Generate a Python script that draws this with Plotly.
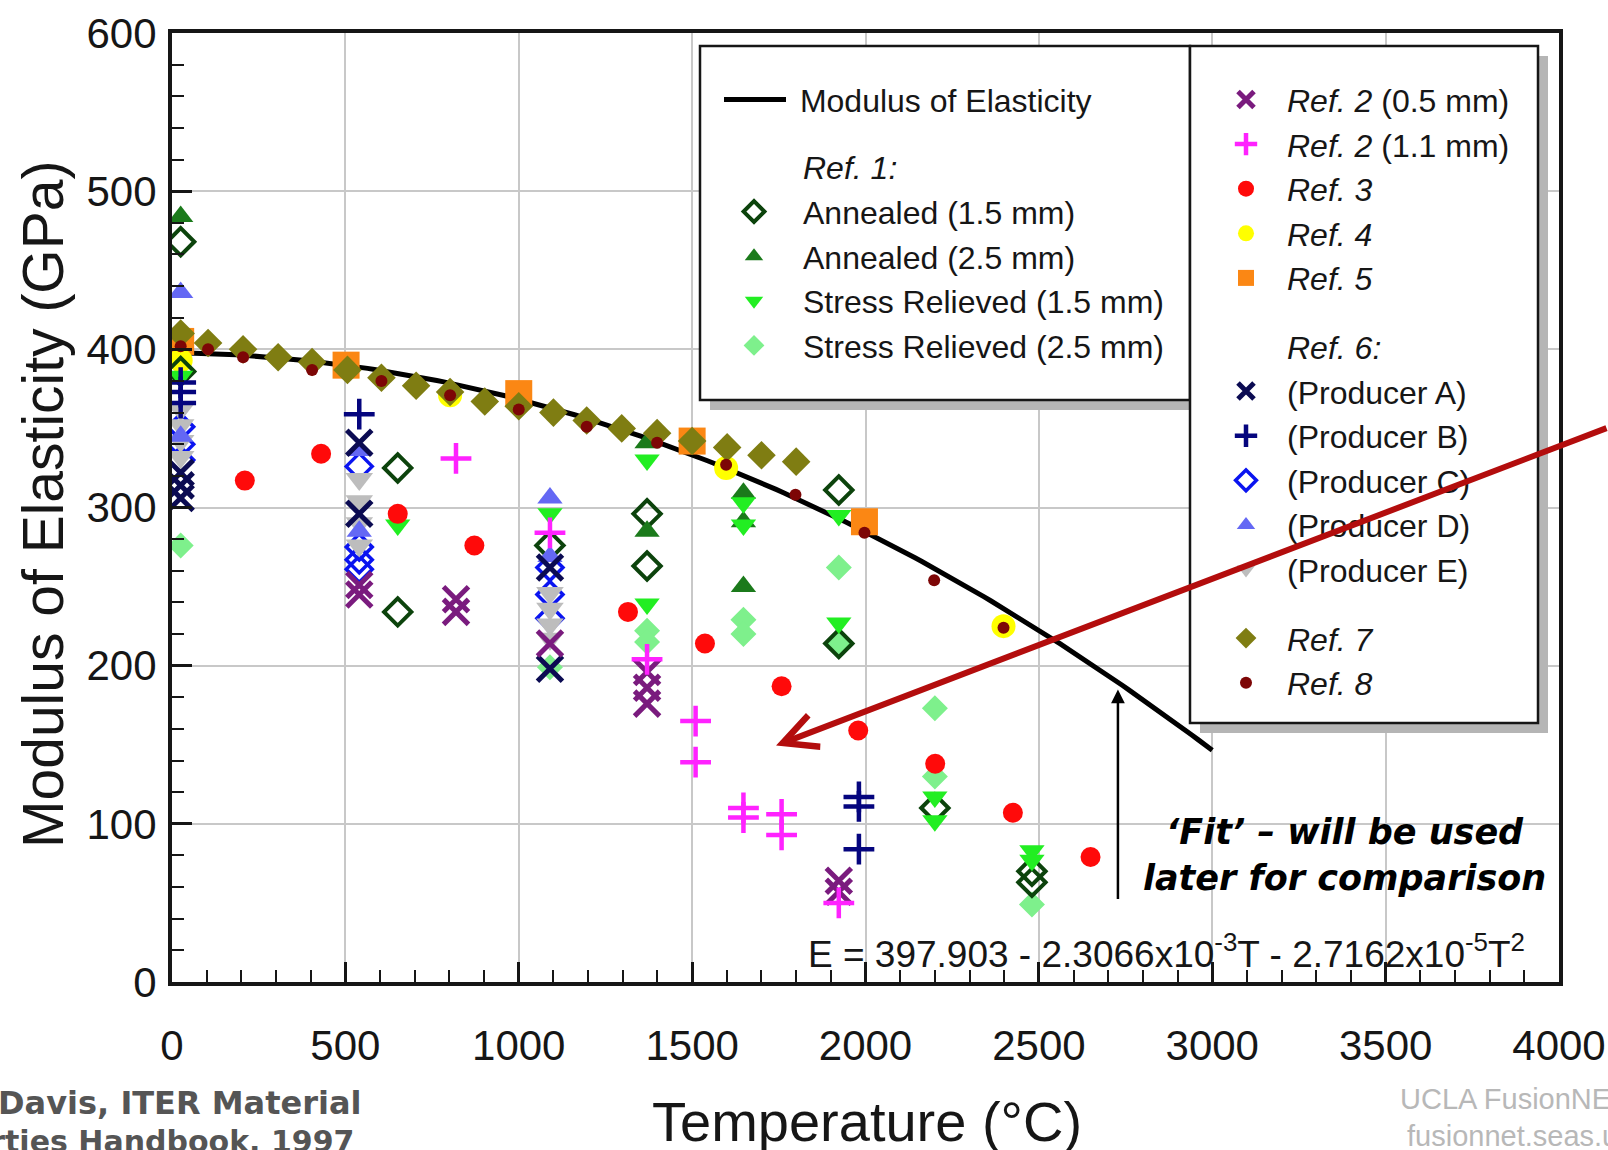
import numpy as np
import plotly.graph_objects as go

# ---------------------------------------------------------------
# Fit: E = A0 - A1*T - A2*T^2   (E in GPa, T in degC)
# ---------------------------------------------------------------
FIT_A0 = 397.903
FIT_A1_MANT, FIT_A1_EXP = 2.3066, -3
FIT_A2_MANT, FIT_A2_EXP = 2.7162, -5
FIT_T_MIN, FIT_T_MAX = 25, 3000

# ---------------------------------------------------------------
# Measured modulus data (temperature in degC, modulus in GPa)
# ---------------------------------------------------------------
ann15_T = [25, 25, 651, 651, 1090, 1370, 1370, 1923, 1923, 2200, 2480, 2480]
ann15_E = [468, 386, 325, 234, 276, 296, 263, 311, 214, 110, 70, 63]

ann25_T = [25, 1370, 1370, 1648, 1648, 1648]
ann25_E = [484, 341, 285, 309, 291, 250]

sr15_T = [25, 651, 1090, 1370, 1370, 1648, 1648, 1923, 1923, 2200, 2200, 2480, 2480]
sr15_E = [383, 289, 296, 330, 239, 303, 289, 295, 227, 117, 102, 83, 77]

sr25_T = [25, 1090, 1370, 1370, 1648, 1648, 1923, 1923, 2200, 2200, 2480]
sr25_E = [276, 199, 222, 215, 229, 220, 262, 213, 173, 130, 49]

ref2a_T = [540, 540, 819, 819, 1090, 1370, 1370, 1370, 1923, 1923]
ref2a_E = [251, 245, 242, 234, 214, 196, 186, 176, 64, 57]

ref2b_T = [819, 1090, 1370, 1510, 1510, 1648, 1648, 1758, 1758, 1923]
ref2b_E = [331, 284, 204, 165, 139, 110, 104, 106, 93, 50]

ref3_T = [210, 430, 651, 872, 1315, 1537, 1758, 1979, 2201, 2425, 2649]
ref3_E = [317, 334, 296, 276, 234, 214, 187, 159, 138, 107, 79]

ref4_T = [25, 802, 1598, 2398]
ref4_E = [393, 371, 325, 225]

ref5_T = [25, 502, 1000, 1500, 1997]
ref5_E = [405, 390, 372, 342, 291]

prodA_T = [25, 25, 25, 540, 540, 1090, 1090]
prodA_E = [322, 314, 306, 341, 296, 262, 198]

prodB_T = [25, 25, 25, 540, 1981, 1981, 1981]
prodB_E = [379, 373, 366, 359, 117, 111, 84]

prodC_T = [25, 25, 25, 540, 540, 540, 540, 1090, 1090, 1090]
prodC_E = [351, 340, 330, 326, 275, 267, 261, 262, 245, 230]

prodD_T = [25, 25, 540, 540, 1090, 1090]
prodD_E = [436, 345, 336, 285, 306, 269]

prodE_T = [25, 25, 25, 25, 540, 540, 540, 540, 1090, 1090, 1090, 1090]
prodE_E = [362, 352, 342, 332, 318, 304, 290, 276, 246, 236, 226, 217]

ref7_T = [25, 104, 205, 306, 404, 506, 604, 704, 802, 902, 1000, 1100,
          1196, 1297, 1399, 1500, 1601, 1700, 1800]
ref7_E = [410, 404, 400, 395, 392, 387, 382, 377, 373, 367, 364, 360,
          355, 350, 347, 342, 338, 333, 329]

ref8_T = [25, 104, 205, 404, 604, 802, 1000, 1196, 1399, 1598, 1798, 1997, 2198, 2398]
ref8_E = [402, 400, 395, 387, 380, 371, 362, 351, 341, 327, 308, 284, 254, 224]

# ---------------------------------------------------------------
# Page geometry (pixels)
# ---------------------------------------------------------------
W, H = 1608, 1150
ML, MR, MT, MB = 172, 49, 33, 168
PW, PH = W - ML - MR, H - MT - MB


def px_x(p):
    return (p - ML) / PW


def px_y(p):
    return (H - MB - p) / PH


AX_FONT = "Liberation Sans, Arial, sans-serif"
HAND_FONT = "Comic Sans MS, DejaVu Sans, sans-serif"
INK = "#161616"

fit_T = np.linspace(FIT_T_MIN, FIT_T_MAX, 150)
fit_E = (FIT_A0 - FIT_A1_MANT * 10.0 ** FIT_A1_EXP * fit_T
         - FIT_A2_MANT * 10.0 ** FIT_A2_EXP * fit_T ** 2)

fig = go.Figure()

fig.add_trace(go.Scatter(
    x=fit_T, y=fit_E, mode="lines", line=dict(color="#000000", width=5),
    name=" Modulus of Elasticity", legend="legend3", hoverinfo="skip"))


def pts(x, y, name, symbol, size, color, legend, group, rank,
        line_color=None, line_width=0):
    fig.add_trace(go.Scatter(
        x=x, y=y, mode="markers", name=name, legend=legend,
        legendgroup=group, legendrank=rank,
        marker=dict(symbol=symbol, size=size, color=color,
                    line=dict(color=line_color or color, width=line_width)),
        hoverinfo="x+y+name"))


def heading(text, legend, group, rank):
    fig.add_trace(go.Scatter(
        x=[None], y=[None], mode="markers", name=text, legend=legend,
        legendgroup=group, legendrank=rank,
        marker=dict(size=2, color="rgba(0,0,0,0)"), hoverinfo="skip"))


heading("<i>Ref. 1:</i>", "legend", "r1", 1)
heading("<i>Ref. 6:</i>", "legend2", "r6", 6)

# drawing order: back to front
pts(ref5_T, ref5_E, "<i>Ref. 5</i>", "square", 27, "#fb8714", "legend2", "r2", 5)
pts(ref4_T, ref4_E, "<i>Ref. 4</i>", "circle", 24, "#ffff00", "legend2", "r2", 4)
pts(sr25_T, sr25_E, "Stress Relieved (2.5 mm)", "diamond", 20, "#7ef08c", "legend", "r1", 5)
pts(ann15_T, ann15_E, "Annealed (1.5 mm)", "diamond-open", 21, "#0c430c", "legend", "r1", 2,
    line_width=4)
pts(ann25_T, ann25_E, "Annealed (2.5 mm)", "triangle-up", 22, "#1b7a1b", "legend", "r1", 3)
pts(sr15_T, sr15_E, "Stress Relieved (1.5 mm)", "triangle-down", 22, "#22ee22", "legend", "r1", 4)
pts(prodC_T, prodC_E, "(Producer C)", "diamond-open", 20, "#0a14f0", "legend2", "r6", 9,
    line_width=3.5)
pts(prodE_T, prodE_E, "(Producer E)", "triangle-down", 24, "#bdbdbd", "legend2", "r6", 11)
pts(prodD_T, prodD_E, "(Producer D)", "triangle-up", 22, "#6468f4", "legend2", "r6", 10)
pts(prodA_T, prodA_E, "(Producer A)", "x-thin", 25, "#0b0b52", "legend2", "r6", 7,
    line_width=5)
pts(prodB_T, prodB_E, "(Producer B)", "cross-thin", 22, "#05057e", "legend2", "r6", 8,
    line_width=4.5)
pts(ref2a_T, ref2a_E, "<i>Ref. 2</i> (0.5 mm)", "x-thin", 25, "#7a1b7e", "legend2", "r2", 1,
    line_width=5)
pts(ref2b_T, ref2b_E, "<i>Ref. 2</i> (1.1 mm)", "cross-thin", 22, "#ff22ff", "legend2", "r2", 2,
    line_width=4.5)
pts(ref3_T, ref3_E, "<i>Ref. 3</i>", "circle", 20, "#ff0a0a", "legend2", "r2", 3)
pts(ref7_T, ref7_E, "<i>Ref. 7</i>", "diamond", 22, "#7f7d12", "legend2", "r7", 12)
pts(ref8_T, ref8_E, "<i>Ref. 8</i>", "circle", 12, "#7d0606", "legend2", "r7", 13)

# ---------------------------------------------------------------
# Legend frames (white boxes with drop shadows)
# ---------------------------------------------------------------
BOX1 = (700, 46, 1190, 400)
BOX2 = (1190, 46, 1538, 723)
SHADOW = 10
shapes = []
for (x0, y0, x1, y1) in (BOX1, BOX2):
    shapes.append(dict(type="rect", xref="paper", yref="paper", layer="above",
                       x0=px_x(x0 + SHADOW), x1=px_x(x1 + SHADOW),
                       y0=px_y(y1 + SHADOW), y1=px_y(y0 + SHADOW),
                       fillcolor="#b5b5b5", line=dict(width=0)))
for (x0, y0, x1, y1) in (BOX1, BOX2):
    shapes.append(dict(type="rect", xref="paper", yref="paper", layer="above",
                       x0=px_x(x0), x1=px_x(x1), y0=px_y(y1), y1=px_y(y0),
                       fillcolor="#ffffff", line=dict(color=INK, width=2.5)))

LEG_FONT = dict(family=AX_FONT, size=32, color=INK)
leg_common = dict(bgcolor="rgba(0,0,0,0)", borderwidth=0, font=LEG_FONT,
                  xanchor="left", yanchor="top", itemsizing="trace")


def label(text, x, y, size, xanchor="center", yanchor="middle", **kw):
    font = dict(family=kw.pop("family", AX_FONT), size=size,
                color=kw.pop("color", INK))
    for k in ("weight", "style"):
        if k in kw:
            font[k] = kw.pop(k)
    return dict(text=text, xref="paper", yref="paper", x=px_x(x), y=px_y(y),
                xanchor=xanchor, yanchor=yanchor, showarrow=False, font=font, **kw)


eq_text = (f"E = {FIT_A0} - {FIT_A1_MANT}x10<sup>{FIT_A1_EXP}</sup>T - "
           f"{FIT_A2_MANT}x10<sup>{FIT_A2_EXP}</sup>T<sup>2</sup>")

annotations = [
    label("Modulus of Elasticity (GPa)", 43, 505, 57, textangle=-90),
    label("Temperature (°C)", 867, 1121, 56),
    label(eq_text, 1527, 951, 37, xanchor="right"),
    label("‘Fit’ – will be used<br>later for comparison", 1344, 855, 35,
          family=HAND_FONT, color="#000000", weight="bold", style="italic",
          align="center"),
    label("J.W. Davis, ITER Material", 364, 1103, 32, xanchor="right",
          family=HAND_FONT, color="#555555", weight="bold"),
    label("Properties Handbook, 1997", 356, 1141, 30, xanchor="right",
          family=HAND_FONT, color="#555555", weight="bold"),
    label("UCLA FusionNET", 1398, 1099, 29, xanchor="left", color="#b8b8b8"),
    label("fusionnet.seas.ucla.edu", 1405, 1136, 29, xanchor="left", color="#b8b8b8"),
    # red pointer towards the low-lying data
    dict(x=1742, y=149.5, xref="x", yref="y", text="", showarrow=True,
         ax=840, ay=-318, axref="pixel", ayref="pixel",
         arrowhead=5, arrowsize=1.1, arrowwidth=6, arrowcolor="#b30d0d", standoff=0),
    # black pointer to the fit curve
    dict(x=2728, y=185, xref="x", yref="y", text="", showarrow=True,
         ax=0, ay=211, axref="pixel", ayref="pixel",
         arrowhead=2, arrowsize=1.1, arrowwidth=2.5, arrowcolor="#000000", standoff=0),
]

axis_common = dict(
    showgrid=True, gridcolor="#c8c8c8", gridwidth=1.5, zeroline=False,
    ticks="inside", ticklen=20, tickwidth=2.5, tickcolor=INK,
    showline=True, linecolor=INK, linewidth=4, mirror=True, automargin=False,
    tickfont=dict(family=AX_FONT, size=42, color=INK),
)

fig.update_layout(
    width=W, height=H,
    margin=dict(l=ML, r=MR, t=MT, b=MB, pad=0, autoexpand=False),
    paper_bgcolor="white", plot_bgcolor="white",
    xaxis=dict(range=[0, 4000], tick0=0, dtick=500, ticklabelstandoff=24,
               minor=dict(dtick=100, ticks="inside", ticklen=12, tickwidth=2, tickcolor=INK),
               **axis_common),
    yaxis=dict(range=[0, 600], tick0=0, dtick=100, ticklabelstandoff=3,
               minor=dict(dtick=20, ticks="inside", ticklen=12, tickwidth=2, tickcolor=INK),
               **axis_common),
    shapes=shapes,
    annotations=annotations,
    legend3=dict(x=px_x(719), y=px_y(72.2), itemwidth=62, traceorder="normal", **leg_common),
    legend=dict(x=px_x(705), y=px_y(139.7), itemwidth=88, traceorder="normal", **leg_common),
    legend2=dict(x=px_x(1205), y=px_y(72.2), itemwidth=72, traceorder="grouped",
                 tracegroupgap=24, **leg_common),
    showlegend=True,
)

fig.write_html("out.html")
